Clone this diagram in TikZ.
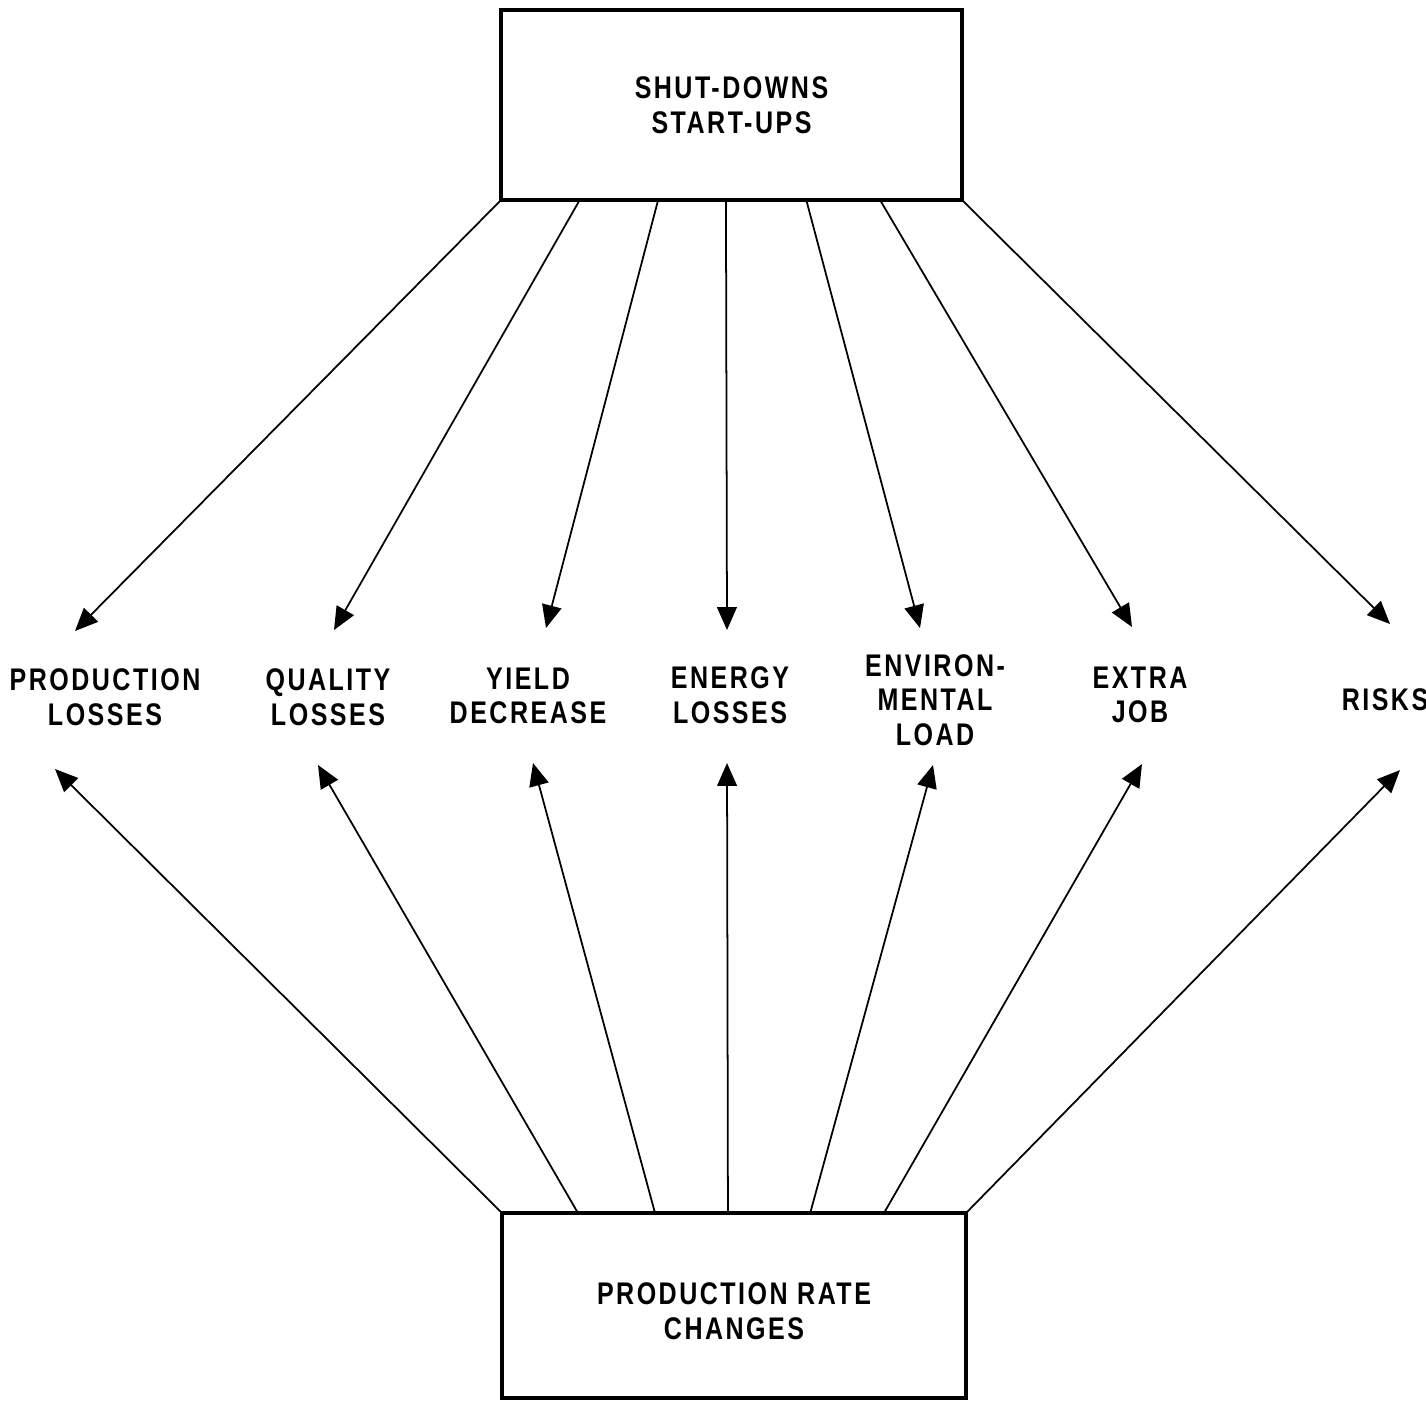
\documentclass[tikz,border=0pt]{standalone}
\usepackage{fontspec}
\setmainfont{Liberation Sans}[FakeStretch=0.8,LetterSpace=8]
\usetikzlibrary{
	arrows.meta,
	calc,
	positioning,
	}

\begin{document}
\begin{tikzpicture}[x=0.1mm, y=-0.1mm,
		font=\bfseries\fontsize{8.9}{9.8}\selectfont,
		box/.style={draw, line width=0.9pt, minimum width=46.1mm, minimum height=19mm, align=center},
		effect/.style={align=center},
		link/.style={line width=0.5pt, -{Triangle[length=6.5pt,width=5.6pt]}}]
			\useasboundingbox (0,0) rectangle (1426,1401);

			\node[box] (stop) at (731.5,105) {SHUT-DOWNS\\START-UPS};
			\node[box, minimum width=46.4mm, minimum height=18.5mm] (rate) at (734,1305.5) {\rule{0pt}{3.3mm}PRODUCTION RATE\\CHANGES};

			\node[effect] (prod) at (105,697) {PRODUCTION\\LOSSES};
			\node[effect] (qual) at (328,697) {QUALITY\\LOSSES};
			\node[effect] (yield) at (528,696) {YIELD\\DECREASE};
			\node[effect] (energy) at (730,695) {ENERGY\\LOSSES};
			\node[effect] (env) at (935,700) {ENVIRON-\\MENTAL\\LOAD};
			\node[effect] (extra) at (1140,695) {EXTRA\\JOB};
			\node[effect] (risks) at (1385,700) {RISKS};

			% arrow tips above the labels
			\coordinate (prod-a) at (75,631);
			\coordinate (qual-a) at (334,630);
			\coordinate (yield-a) at (546,628);
			\coordinate (energy-a) at (727,630);
			\coordinate (env-a) at (920,628);
			\coordinate (extra-a) at (1132,627);
			\coordinate (risks-a) at (1390,624);
			% arrow tips below the labels
			\coordinate (prod-b) at (55,769);
			\coordinate (qual-b) at (318,765);
			\coordinate (yield-b) at (533,763);
			\coordinate (energy-b) at (727,763);
			\coordinate (env-b) at (933,765);
			\coordinate (extra-b) at (1142,764);
			\coordinate (risks-b) at (1400,770);

			\draw[link] (stop.south west) -- (prod-a);
			\draw[link] ($(stop.south west)!0.171!(stop.south east)$) -- (qual-a);
			\draw[link] ($(stop.south west)!0.341!(stop.south east)$) -- (yield-a);
			\draw[link] ($(stop.south west)!0.488!(stop.south east)$) -- (energy-a);
			\draw[link] ($(stop.south west)!0.662!(stop.south east)$) -- (env-a);
			\draw[link] ($(stop.south west)!0.822!(stop.south east)$) -- (extra-a);
			\draw[link] (stop.south east) -- (risks-a);

			\draw[link] (rate.north west) -- (prod-b);
			\draw[link] ($(rate.north west)!0.164!(rate.north east)$) -- (qual-b);
			\draw[link] ($(rate.north west)!0.330!(rate.north east)$) -- (yield-b);
			\draw[link] ($(rate.north west)!0.487!(rate.north east)$) -- (energy-b);
			\draw[link] ($(rate.north west)!0.664!(rate.north east)$) -- (env-b);
			\draw[link] ($(rate.north west)!0.823!(rate.north east)$) -- (extra-b);
			\draw[link] (rate.north east) -- (risks-b);

		\end{tikzpicture}
\end{document}
